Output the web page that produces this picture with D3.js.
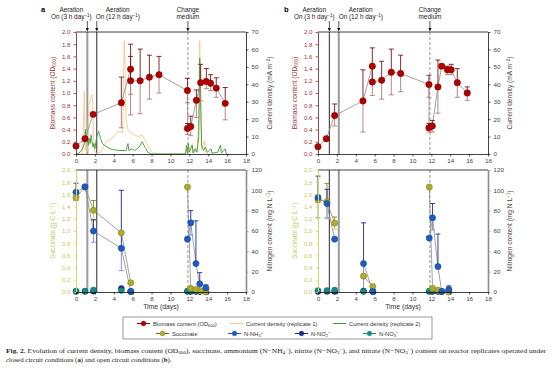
<!DOCTYPE html>
<html><head><meta charset="utf-8">
<script src="https://cdnjs.cloudflare.com/ajax/libs/d3/7.8.5/d3.min.js"></script>
<style>body{margin:0;background:#fff} svg{display:block} text{font-family:"Liberation Sans",Arial,sans-serif}</style>
</head><body><svg id="c" width="554" height="369"></svg>
<script>
// ---------- data ----------
const xTicks = [0,2,4,6,8,10,12,14,16,18];
const odTicks = [0,0.2,0.4,0.6,0.8,1.0,1.2,1.4,1.6,1.8,2.0];
const currentTicks = [0,10,20,30,40,50,60,70];
const succTicks = [0,0.2,0.4,0.6,0.8,1.0,1.2,1.4,1.6,1.8,2.0];
const nitrogenTicks = [0,20,40,60,80,100,120];
const aerationDays = [1.2, 2.2];
const changeMediumDay = 11.85;

// [day, value, errLow, errHigh]
const aBiomass = [
 [0,0.13,null,null],[0.95,0.25,null,null],[1.82,0.65,null,null],[4.8,0.84,0.43,1.26],
 [5.78,1.39,0.98,1.8],[5.78,1.2,0.64,1.6],[6.79,1.2,0.66,1.72],[7.77,1.26,0.9,1.62],
 [8.79,1.3,1.0,1.6],[11.8,1.04,0.84,1.24],[11.8,0.42,0.32,0.5],[12.15,0.45,0.3,0.62],
 [12.75,0.88,0.6,1.05],[13.2,1.17,0.87,1.47],[13.8,1.19,1.07,1.4],[14.25,1.16,1.04,1.3],
 [14.85,1.08,0.93,1.25],[15.8,0.83,0.56,1.09]
];
const bBiomass = [
 [0,0.12,null,null],[0.88,0.25,null,null],[1.76,0.63,0.46,0.82],[4.76,0.87,0.36,1.38],
 [5.75,1.44,1.18,1.74],[5.75,1.18,0.96,1.44],[6.74,1.21,0.9,1.52],[7.76,1.34,0.97,1.72],
 [8.75,1.32,1.02,1.62],[11.75,1.14,0.93,1.29],[11.75,0.43,0.36,0.5],[12.1,0.46,0.36,0.55],
 [12.7,1.1,0.67,1.54],[13.1,1.44,null,null],[13.7,1.38,1.3,1.44],[14.1,1.38,1.3,1.47],
 [14.75,1.17,0.93,1.4],[15.8,1.0,0.88,1.1]
];
// current density [day, mA m-2]
const aCurrentRep1 = [
 [0,0],[0.5,0],[0.7,0.5],[0.8,20],[0.88,36],[0.95,10],[1.05,2],[1.2,1],[1.35,28],[1.5,30],
 [1.6,33],[1.7,34],[1.8,25],[1.9,5],[2.0,1],[2.2,0.5],[2.6,1],[2.9,4],[3.2,7],[3.6,8],
 [4.0,10],[4.4,13],[4.7,13],[4.9,12],[5.0,30],[5.1,65],[5.2,50],[5.3,20],[5.5,14],[5.8,12],
 [6.2,11],[6.6,10],[7.0,11],[7.3,8],[7.6,5],[7.9,2],[8.2,0.5],[9,0],[11.5,0],[11.8,3],
 [11.9,1],[12.3,6],[12.4,1],[12.8,2],[13.0,20],[13.1,65],[13.2,30],[13.3,3],[13.6,8],[13.7,1],[14,0]
];
const aCurrentRep2 = [
 [0,0],[0.3,0.5],[0.6,2],[0.9,6],[1.0,14],[1.1,8],[1.2,10],[1.3,5],[1.4,9],[1.5,6],[1.6,11],
 [1.7,7],[1.8,4],[1.9,6],[2.0,3],[2.2,10],[2.4,13],[2.5,11],[2.6,9],[2.8,6],[3.0,5],[3.3,4],
 [3.6,3],[4.0,2.5],[4.5,2],[5.0,2],[5.3,2],[5.5,6],[5.6,2],[5.9,3],[6.2,2],[6.5,3],[6.8,5],
 [7.0,7],[7.2,5],[7.4,3],[7.6,1],[7.8,0.5],[8,0],[11.6,0],[11.7,5],[11.8,0.5],[11.9,6],[12.0,1],
 [12.3,5],[12.4,0.5],[12.6,3],[12.8,1],[13.0,10],[13.1,55],[13.2,30],[13.3,5],[13.5,2],[13.7,4],
 [13.9,1],[14.3,3],[14.4,0.5],[15.0,1],[15.3,5],[15.4,0.5],[15.8,3],[15.9,0.5],[16.0,0]
];
// succinate g C L-1 ; nitrogen mg N L-1   [day, value, errLow, errHigh]
const aSuccinate = [
 [0,1.55,1.5,1.6],[0.95,1.72,null,null],[1.85,1.34,1.18,1.5],[4.8,0.97,null,null],[5.8,0.15,null,null],
 [11.8,1.72,null,null],[12.15,0.06,null,null],[12.7,0.04,null,null],[13.2,0.02,null,null],[13.75,0.0,null,null]
];
const aAmmonium = [
 [0,98,90,107],[0.95,103.5,null,null],[1.85,60,49,71],[4.8,43,21,100],[5.8,0.5,null,null],
 [11.8,52,null,null],[12.15,68,56,80],[12.7,28,28,70],[13.1,8,0,19],[13.75,4,0,7]
];
const aNitrite = [[0,0.5],[0.95,0.5],[1.85,0.8],[4.8,3.5],[5.8,0.5],[11.8,0.5],[12.15,0.5],[12.7,0.5],[13.1,0.5],[13.75,0.5]];
const aNitrate = [[0,1],[0.95,1],[1.85,2],[4.8,1.5],[5.8,0.5],[11.8,1],[12.15,1],[12.7,1],[13.1,0.8],[13.75,0.5]];
const bSuccinate = [
 [0,1.51,1.47,1.55],[0.95,1.48,1.2,1.78],[1.76,1.13,1.03,1.23],[4.82,0.26,null,null],[5.8,0.09,null,null],
 [11.78,1.72,null,null],[12.13,0.06,null,null],[12.7,0.03,null,null],[13.85,0,null,null]
];
const bAmmonium = [
 [0,93,73,114],[0.95,87,73,101],[1.76,52,null,null],[4.82,28,0,68],[5.8,0.5,null,null],
 [11.78,53,null,null],[12.13,73,61,87],[12.7,25,25,57],[13.1,0.5,null,null],[13.85,2.5,0,6]
];
const bNitrite = [[0,0.5],[0.95,0.5],[1.76,0.5],[4.82,1],[5.8,0.5],[11.78,0.5],[12.13,0.5],[12.7,0.5],[13.1,0.5],[13.85,0.5]];
const bNitrate = [[0,1.5],[0.95,1.5],[1.76,2],[4.82,0.5],[5.8,0.5],[11.78,1],[12.13,1],[12.7,0.8],[13.1,0.5],[13.85,0.5]];

// ---------- drawing ----------
const svg = d3.select("#c");
svg.append("rect").attr("width",554).attr("height",369).attr("fill","#fff");
const FS = 6.2;

function rich(sel, parts){
  parts.forEach(p=>{
    const t = sel.append("tspan").text(p[0]);
    if(p[1]==="sup"){t.attr("baseline-shift","40%").attr("font-size","0.7em");}
    if(p[1]==="sub"){t.attr("baseline-shift","-25%").attr("font-size","0.7em");}
  });
  return sel;
}

const C = {
  bio:"#b00000", bioStroke:"#7a0000", bioErrD:"#7a1515", bioErrL:"#b07a7a",
  rep1:"#f7c98b", rep2:"#3f9a35",
  succ:"#b0ac2a", succStroke:"#7d7a18",
  nh4:"#1f5cc0", nh4Stroke:"#173f8a",
  no2:"#1c2a86", no3:"#1a8a87",
  link:"#8a8a8a"
};

function segments(arr){
  const segs=[]; let cur=[];
  arr.forEach((d,i)=>{ if(i>0 && d[0]-arr[i-1][0]>3){segs.push(cur);cur=[];} cur.push(d);});
  segs.push(cur); return segs;
}

function errBars(g, data, x, y, dark, light){
  data.filter(d=>d[2]!=null).forEach(d=>{
    const cx=x(d[0]);
    g.append("line").attr("x1",cx).attr("x2",cx).attr("y1",y(d[1])).attr("y2",y(d[3])).attr("stroke",dark).attr("stroke-width",0.9);
    g.append("line").attr("x1",cx).attr("x2",cx).attr("y1",y(d[1])).attr("y2",y(d[2])).attr("stroke",light).attr("stroke-width",0.9);
    g.append("line").attr("x1",cx-2.5).attr("x2",cx+2.5).attr("y1",y(d[3])).attr("y2",y(d[3])).attr("stroke",dark).attr("stroke-width",0.9);
    g.append("line").attr("x1",cx-2.5).attr("x2",cx+2.5).attr("y1",y(d[2])).attr("y2",y(d[2])).attr("stroke",light).attr("stroke-width",0.9);
  });
}

function styleAxis(ax, lineColor, textColor, lw){
  ax.select(".domain").attr("stroke",lineColor).attr("stroke-width",lw||0.8);
  ax.selectAll(".tick line").attr("stroke",lineColor).attr("stroke-width",0.7);
  ax.selectAll(".tick text").attr("fill",textColor).attr("font-size",FS).attr("font-family","Liberation Sans, Arial, sans-serif");
}

function panel(opt){
  const x0=opt.x0, x1=opt.x0+170;
  const topY=[32,154], botY=[170,292];
  const x = d3.scaleLinear().domain([0,18]).range([x0,x1]);
  const yOD = d3.scaleLinear().domain([0,2]).range([topY[1],topY[0]]);
  const yCur = d3.scaleLinear().domain([0,70]).range([topY[1],topY[0]]);
  const ySu = d3.scaleLinear().domain([0,2]).range([botY[1],botY[0]]);
  const yN = d3.scaleLinear().domain([0,120]).range([botY[1],botY[0]]);
  const g = svg.append("g");

  // panel letter
  g.append("text").attr("x",opt.letterX).attr("y",12).attr("font-size",7.5).attr("font-weight","bold").text(opt.letter);

  // --- annotations ---
  const ann = [
    {d:aerationDays[0], dx:opt.ann1dx, l1:[["Aeration"]], l2:[["On (3 h day"],["−1","sup"],[")"]]},
    {d:aerationDays[1], dx:opt.ann2dx, l1:[["Aeration"]], l2:[["On (12 h day"],["−1","sup"],[")"]]},
    {d:changeMediumDay, dx:0, l1:[["Change"]], l2:[["medium"]]}
  ];
  ann.forEach(a=>{
    const cx=x(a.d);
    rich(g.append("text").attr("x",cx+a.dx).attr("y",12).attr("text-anchor","middle").attr("font-size",6.4).attr("fill","#222"),a.l1);
    rich(g.append("text").attr("x",cx+a.dx).attr("y",19).attr("text-anchor","middle").attr("font-size",6.4).attr("fill","#222"),a.l2);
    g.append("line").attr("x1",cx).attr("x2",cx).attr("y1",21).attr("y2",29).attr("stroke","#111").attr("stroke-width",0.7);
    g.append("path").attr("d",`M${cx-1.6},${28}L${cx+1.6},${28}L${cx},${31.5}Z`).attr("fill","#111");
  });

  // --- vertical reference lines (both plots) ---
  [topY,botY].forEach(yr=>{
    opt.vstyles.forEach((s,i)=>{
      g.append("line").attr("x1",x(aerationDays[i])).attr("x2",x(aerationDays[i])).attr("y1",yr[0]).attr("y2",yr[1])
        .attr("stroke",s.c).attr("stroke-width",s.w);
    });
    g.append("line").attr("x1",x(changeMediumDay)).attr("x2",x(changeMediumDay)).attr("y1",yr[0]).attr("y2",yr[1])
      .attr("stroke","#8a8a8a").attr("stroke-width",0.9).attr("stroke-dasharray","3,2");
  });

  // ===== top plot =====
  const line = d3.line().x(d=>x(d[0]));
  if(opt.rep1){
    g.append("path").datum(opt.rep1).attr("d",line.y(d=>yCur(d[1]))).attr("fill","none").attr("stroke",C.rep1).attr("stroke-width",0.9);
    g.append("path").datum(opt.rep2).attr("d",line.y(d=>yCur(d[1]))).attr("fill","none").attr("stroke",C.rep2).attr("stroke-width",0.9);
  }
  g.append("path").datum(opt.bio).attr("d",d3.line().x(d=>x(d[0])).y(d=>yOD(d[1]))).attr("fill","none").attr("stroke",C.link).attr("stroke-width",0.8);
  errBars(g,opt.bio,x,yOD,C.bioErrD,C.bioErrL);
  g.selectAll(null).data(opt.bio).enter().append("circle").attr("cx",d=>x(d[0])).attr("cy",d=>yOD(d[1])).attr("r",3.2)
    .attr("fill",C.bio).attr("stroke",C.bioStroke).attr("stroke-width",0.5);

  // frame/axes top
  g.append("line").attr("x1",x0).attr("x2",x1).attr("y1",topY[0]).attr("y2",topY[0]).attr("stroke","#111").attr("stroke-width",0.8);
  const axL = g.append("g").attr("transform",`translate(${x0},0)`).call(d3.axisLeft(yOD).tickValues(odTicks).tickFormat(d3.format(".1f")).tickSize(2.5).tickSizeOuter(0));
  styleAxis(axL,"#7a1a1a","#9b3434");
  const axR = g.append("g").attr("transform",`translate(${x1},0)`).call(d3.axisRight(yCur).tickValues(currentTicks).tickSize(2.5).tickSizeOuter(0));
  styleAxis(axR,"#111","#444");
  const axB = g.append("g").attr("transform",`translate(0,${topY[1]})`).call(d3.axisBottom(x).tickValues(xTicks).tickSize(2.5).tickSizeOuter(0));
  styleAxis(axB,"#111","#444");
  axB.selectAll(".tick text").attr("dy","0.6em");

  // titles top
  rich(g.append("text").attr("transform",`translate(${opt.lTitleX},${(topY[0]+topY[1])/2}) rotate(-90)`).attr("text-anchor","middle").attr("font-size",6.6).attr("fill","#9b3434"),
    [["Biomass content (OD"],["600","sub"],[")"]]);
  rich(g.append("text").attr("transform",`translate(${opt.rTitleX},${(topY[0]+topY[1])/2}) rotate(-90)`).attr("text-anchor","middle").attr("font-size",6.6).attr("fill","#444"),
    [["Current density (mA m"],["−2","sup"],[")"]]);

  // ===== bottom plot =====
  const lk = d3.line().x(d=>x(d[0]));
  segments(opt.succ).forEach(s=>g.append("path").datum(s).attr("d",lk.y(d=>ySu(d[1]))).attr("fill","none").attr("stroke",C.link).attr("stroke-width",0.8));
  segments(opt.nh4).forEach(s=>g.append("path").datum(s).attr("d",lk.y(d=>yN(d[1]))).attr("fill","none").attr("stroke",C.link).attr("stroke-width",0.8));
  errBars(g,opt.succ,x,ySu,"#8a8620","#c4c070");
  errBars(g,opt.nh4,x,yN,"#1c2a86","#6f8fd8");
  g.selectAll(null).data(opt.no2).enter().append("circle").attr("cx",d=>x(d[0])).attr("cy",d=>yN(d[1])).attr("r",3.0).attr("fill",C.no2).attr("stroke","#0f1a5a").attr("stroke-width",0.4);
  g.selectAll(null).data(opt.no3).enter().append("circle").attr("cx",d=>x(d[0])).attr("cy",d=>yN(d[1])).attr("r",3.0).attr("fill",C.no3).attr("stroke","#0e5a58").attr("stroke-width",0.4);
  g.selectAll(null).data(opt.succ).enter().append("circle").attr("cx",d=>x(d[0])).attr("cy",d=>ySu(d[1])).attr("r",3.1).attr("fill",C.succ).attr("stroke",C.succStroke).attr("stroke-width",0.5);
  g.selectAll(null).data(opt.nh4).enter().append("circle").attr("cx",d=>x(d[0])).attr("cy",d=>yN(d[1])).attr("r",3.1).attr("fill",C.nh4).attr("stroke",C.nh4Stroke).attr("stroke-width",0.5);

  g.append("line").attr("x1",x0).attr("x2",x1).attr("y1",botY[0]).attr("y2",botY[0]).attr("stroke","#111").attr("stroke-width",0.8);
  const bL = g.append("g").attr("transform",`translate(${x0},0)`).call(d3.axisLeft(ySu).tickValues(succTicks).tickFormat(d3.format(".1f")).tickSize(2.5).tickSizeOuter(0));
  styleAxis(bL,"#d6d46a","#c9c65a",1);
  const bR = g.append("g").attr("transform",`translate(${x1},0)`).call(d3.axisRight(yN).tickValues(nitrogenTicks).tickSize(2.5).tickSizeOuter(0));
  styleAxis(bR,"#8c8c8c","#444",1.6);
  const bB = g.append("g").attr("transform",`translate(0,${botY[1]})`).call(d3.axisBottom(x).tickValues(xTicks).tickSize(2.5).tickSizeOuter(0));
  styleAxis(bB,"#111","#444");
  bB.selectAll(".tick text").attr("dy","0.6em");

  rich(g.append("text").attr("transform",`translate(${opt.lTitleX},${(botY[0]+botY[1])/2}) rotate(-90)`).attr("text-anchor","middle").attr("font-size",6.6).attr("fill","#c9c65a"),
    [["Succinate (g C L"],["−1","sup"],[")"]]);
  rich(g.append("text").attr("transform",`translate(${opt.rTitleX},${(botY[0]+botY[1])/2}) rotate(-90)`).attr("text-anchor","middle").attr("font-size",6.6).attr("fill","#444"),
    [["Nitrogen content (mg N L"],["−1","sup"],[")"]]);
  g.append("text").attr("x",(x0+x1)/2).attr("y",309).attr("text-anchor","middle").attr("font-size",6.8).attr("fill","#333").text("Time (days)");
}

panel({x0:76, letter:"a", letterX:41, ann1dx:-16, ann2dx:21, lTitleX:55, rTitleX:272,
  vstyles:[{c:"#9a9a9a",w:2},{c:"#111",w:0.9}],
  bio:aBiomass, rep1:aCurrentRep1, rep2:aCurrentRep2, succ:aSuccinate, nh4:aAmmonium, no2:aNitrite, no3:aNitrate});
panel({x0:318, letter:"b", letterX:284, ann1dx:-15, ann2dx:22, lTitleX:297, rTitleX:512,
  vstyles:[{c:"#111",w:0.9},{c:"#9a9a9a",w:2}],
  bio:bBiomass, rep1:null, rep2:null, succ:bSuccinate, nh4:bAmmonium, no2:bNitrite, no3:bNitrate});

// ---------- legend ----------
const lg = svg.append("g");
lg.append("rect").attr("x",123).attr("y",317).attr("width",309).attr("height",22).attr("fill","none").attr("stroke","#555").attr("stroke-width",0.6);
const legendRow1 = [
  {x:137, type:"marker", color:C.bio, stroke:C.bioStroke, parts:[["Biomass content (OD"],["600","sub"],[")"]]},
  {x:230, type:"line", color:C.rep1, parts:[["Current density (replicate 1)"]]},
  {x:333, type:"line", color:C.rep2, parts:[["Current density (replicate 2)"]]}
];
const legendRow2 = [
  {x:156, type:"marker", color:C.succ, stroke:"#6d6a10", parts:[["Succinate"]]},
  {x:228, type:"marker", color:C.nh4, stroke:"#1f5cc0", parts:[["N-NH"],["4","sub"],["+","sup"]]},
  {x:295, type:"marker", color:C.no2, stroke:"#1c2a86", parts:[["N-NO"],["2","sub"],["−","sup"]]},
  {x:363, type:"marker", color:C.no3, stroke:"#1a8a87", parts:[["N-NO"],["3","sub"],["−","sup"]]}
];
[[legendRow1,323.5],[legendRow2,333.5]].forEach(([row,yy])=>{
  row.forEach(it=>{
    lg.append("line").attr("x1",it.x).attr("x2",it.x+13).attr("y1",yy).attr("y2",yy).attr("stroke",it.type==="marker"?it.stroke:it.color).attr("stroke-width",1);
    if(it.type==="marker") lg.append("circle").attr("cx",it.x+6.5).attr("cy",yy).attr("r",2.4).attr("fill",it.color).attr("stroke",it.stroke).attr("stroke-width",0.4);
    rich(lg.append("text").attr("x",it.x+16).attr("y",yy+2).attr("font-size",5.8).attr("fill","#333"),it.parts);
  });
});

// ---------- caption ----------
const cap = svg.append("g").attr("font-family","Liberation Serif, Times New Roman, serif");
const capLine1 = [["Fig. 2.","b"],["  Evolution of current density, biomass content (OD"],["600","sub"],["), succinate, ammonium (N−NH"],["4","sub"],["+","sup"],
  ["), nitrite (N−NO"],["2","sub"],["−","sup"],["), and nitrate (N−NO"],["3","sub"],["−","sup"],[") content on reactor replicates operated under"]];
const capLine2 = [["closed circuit conditions ("],["a","b"],[") and open circuit conditions ("],["b","b"],[")."]];
function capText(parts, y, len){
  const t = cap.append("text").attr("x",6).attr("y",y).attr("font-size",6.9).attr("fill","#222").style("font-family","Liberation Serif, serif");
  if(len) t.attr("textLength",len).attr("lengthAdjust","spacingAndGlyphs");
  parts.forEach(p=>{
    const s=t.append("tspan").text(p[0]);
    if(p[1]==="b") s.attr("font-weight","bold");
    if(p[1]==="sub") s.attr("baseline-shift","-25%").attr("font-size","0.7em");
    if(p[1]==="sup") s.attr("baseline-shift","40%").attr("font-size","0.7em");
  });
}
capText(capLine1,353,540);
capText(capLine2,362,null);
</script></body></html>
